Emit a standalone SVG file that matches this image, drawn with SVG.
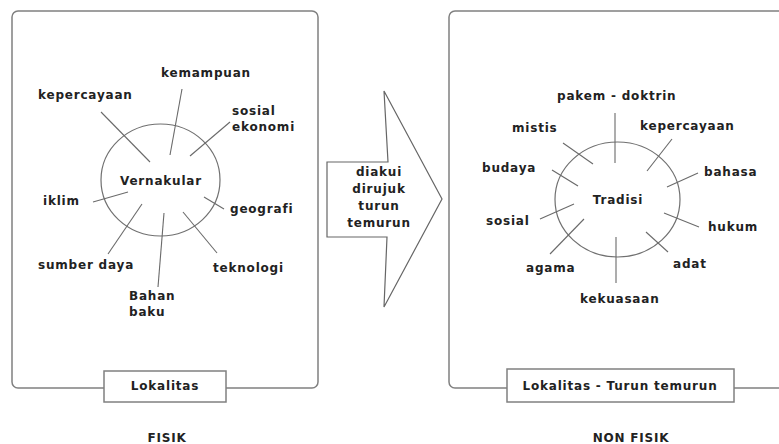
<svg xmlns="http://www.w3.org/2000/svg" width="779" height="444" viewBox="0 0 779 444">
<style>
text{font-family:"DejaVu Sans","Verdana",sans-serif;font-weight:bold;font-size:12px;letter-spacing:0.8px;fill:#222}
.c{text-anchor:middle}
.frame{fill:none;stroke:#808080;stroke-width:1.5}
.box{fill:#fff;stroke:#808080;stroke-width:1.5}
.ring{fill:none;stroke:#707070;stroke-width:1.2}
.ln{stroke:#6a6a6a;stroke-width:1.1;fill:none}
.arrow{fill:#fff;stroke:#666;stroke-width:1.2}
</style>
<rect width="779" height="444" fill="#fff"/>
<g id="fisik-frame">
<rect class="frame" x="12" y="11" width="306" height="377" rx="6"/>
</g>
<g id="nonfisik-frame">
<rect class="frame" x="449" y="11" width="360" height="377" rx="6"/>
</g>
<g id="vernakular">
<ellipse class="ring" cx="160.5" cy="180" rx="59.5" ry="56"/>
<text class="c" x="161" y="185">Vernakular</text>
</g>
<g id="tradisi">
<ellipse class="ring" cx="617.5" cy="199.5" rx="62.5" ry="57.5"/>
<text class="c" x="618" y="204">Tradisi</text>
</g>
<g id="connectors">
<line class="ln" x1="101" y1="112" x2="150" y2="162"/>
<line class="ln" x1="182" y1="89" x2="170" y2="155"/>
<line class="ln" x1="230" y1="122" x2="190" y2="156"/>
<line class="ln" x1="93" y1="202" x2="128" y2="192"/>
<line class="ln" x1="204" y1="197" x2="224" y2="209"/>
<line class="ln" x1="142" y1="204" x2="108" y2="254"/>
<line class="ln" x1="164" y1="213" x2="158" y2="287"/>
<line class="ln" x1="183" y1="212" x2="217" y2="253"/>
<line class="ln" x1="615" y1="113" x2="615" y2="163"/>
<line class="ln" x1="563" y1="143" x2="593" y2="164"/>
<line class="ln" x1="672" y1="139" x2="647" y2="171"/>
<line class="ln" x1="552" y1="170" x2="578" y2="186"/>
<line class="ln" x1="698" y1="173" x2="667" y2="187"/>
<line class="ln" x1="540" y1="219" x2="574" y2="204"/>
<line class="ln" x1="664" y1="213" x2="699" y2="227"/>
<line class="ln" x1="584" y1="219" x2="550" y2="254"/>
<line class="ln" x1="646" y1="232" x2="668" y2="252"/>
<line class="ln" x1="616" y1="237" x2="616" y2="283"/>
</g>
<g id="labels-fisik">
<text x="38" y="99">kepercayaan</text>
<text x="161" y="77">kemampuan</text>
<text x="232" y="115">sosial</text>
<text x="232" y="131">ekonomi</text>
<text x="43" y="205">iklim</text>
<text x="230" y="213">geografi</text>
<text x="38" y="269">sumber daya</text>
<text x="213" y="272">teknologi</text>
<text x="129" y="300">Bahan</text>
<text x="129" y="316">baku</text>
</g>
<g id="labels-nonfisik">
<text x="557" y="100">pakem - doktrin</text>
<text x="512" y="132">mistis</text>
<text x="640" y="130">kepercayaan</text>
<text x="482" y="172">budaya</text>
<text x="704" y="176">bahasa</text>
<text x="486" y="225">sosial</text>
<text x="708" y="231">hukum</text>
<text x="526" y="272">agama</text>
<text x="673" y="268">adat</text>
<text x="580" y="303">kekuasaan</text>
</g>
<g id="arrow">
<polygon class="arrow" points="384,91 442,199 384,307 387,237 327,237 327,162 388,162"/>
<text class="c" x="379" y="176">diakui</text>
<text class="c" x="379" y="193">dirujuk</text>
<text class="c" x="379" y="210">turun</text>
<text class="c" x="379" y="227">temurun</text>
</g>
<g id="lokalitas">
<rect class="box" x="104" y="371" width="122" height="31"/>
<text class="c" x="165" y="390">Lokalitas</text>
</g>
<g id="lokalitas-turun">
<rect class="box" x="507" y="369" width="227" height="33"/>
<text class="c" x="620" y="390">Lokalitas - Turun temurun</text>
</g>
<g id="captions">
<text class="c" x="167" y="442">FISIK</text>
<text class="c" x="631" y="442">NON FISIK</text>
</g>
</svg>
